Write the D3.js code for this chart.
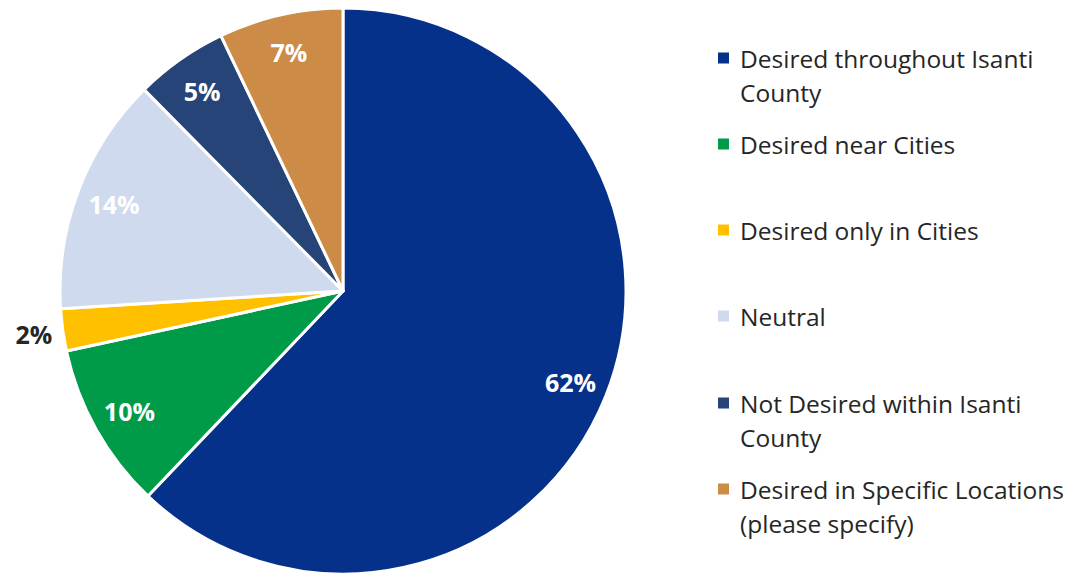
<!DOCTYPE html>
<html><head><meta charset="utf-8">
<script src="https://cdn.jsdelivr.net/npm/d3@7"></script>
<style>body{margin:0;background:#fff;} text{font-family:"Open Sans","Noto Sans",sans-serif;}</style>
</head><body>
<svg id="chart" width="1077" height="574"></svg>
<script>
const categories = [
  "Desired throughout Isanti County",
  "Desired near Cities",
  "Desired only in Cities",
  "Neutral",
  "Not Desired within Isanti County",
  "Desired in Specific Locations (please specify)"
];
const legendLines = [
  ["Desired throughout Isanti", "County"],
  ["Desired near Cities"],
  ["Desired only in Cities"],
  ["Neutral"],
  ["Not Desired within Isanti", "County"],
  ["Desired in Specific Locations", "(please specify)"]
];
const values = [62.1, 9.5, 2.4, 13.6, 5.3, 7.1];
const colors = ["#06318A", "#009B48", "#FFC000", "#CFDAEE", "#264478", "#CD8B48"];
const labelColors = ["#fff", "#fff", "#262626", "#fff", "#fff", "#fff"];
const outside = [false, false, true, false, false, false];

const svg = d3.select("#chart");
const cx = 343, cy = 291, R = 283;
const g = svg.append("g").attr("transform", `translate(${cx},${cy})`);
const pie = d3.pie().sort(null).value(d => d)(values);
const arc = d3.arc().innerRadius(0).outerRadius(R);
g.selectAll("path").data(pie).join("path")
  .attr("d", arc).attr("fill", (d, i) => colors[i])
  .attr("stroke", "#fff").attr("stroke-width", 3).attr("stroke-linejoin", "round");

const inArc = d3.arc().innerRadius(245).outerRadius(245);
const outArc = d3.arc().innerRadius(312).outerRadius(312);
const total = d3.sum(values);
g.selectAll("text.lbl").data(pie).join("text")
  .attr("class", "lbl")
  .attr("transform", (d, i) => `translate(${(outside[i] ? outArc : inArc).centroid(d)})`)
  .attr("text-anchor", "middle").attr("dominant-baseline", "central")
  .attr("font-size", 25).attr("font-weight", 700)
  .attr("fill", (d, i) => labelColors[i])
  .text(d => Math.round(d.value / total * 100) + "%");

const legend = svg.append("g").attr("transform", "translate(718,0)");
const itemY = [58, 144, 230, 316, 403, 489];
const lineH = 34;
legendLines.forEach((lines, i) => {
  const item = legend.append("g").attr("transform", `translate(0,${itemY[i]})`);
  item.append("rect").attr("x", 0).attr("y", -5.5).attr("width", 11).attr("height", 11).attr("fill", colors[i]);
  lines.forEach((t, j) => {
    item.append("text").attr("x", 22).attr("y", j * lineH)
      .attr("dominant-baseline", "central")
      .attr("font-size", 24.5).attr("fill", "#262626").text(t);
  });
});
</script>
</body></html>
